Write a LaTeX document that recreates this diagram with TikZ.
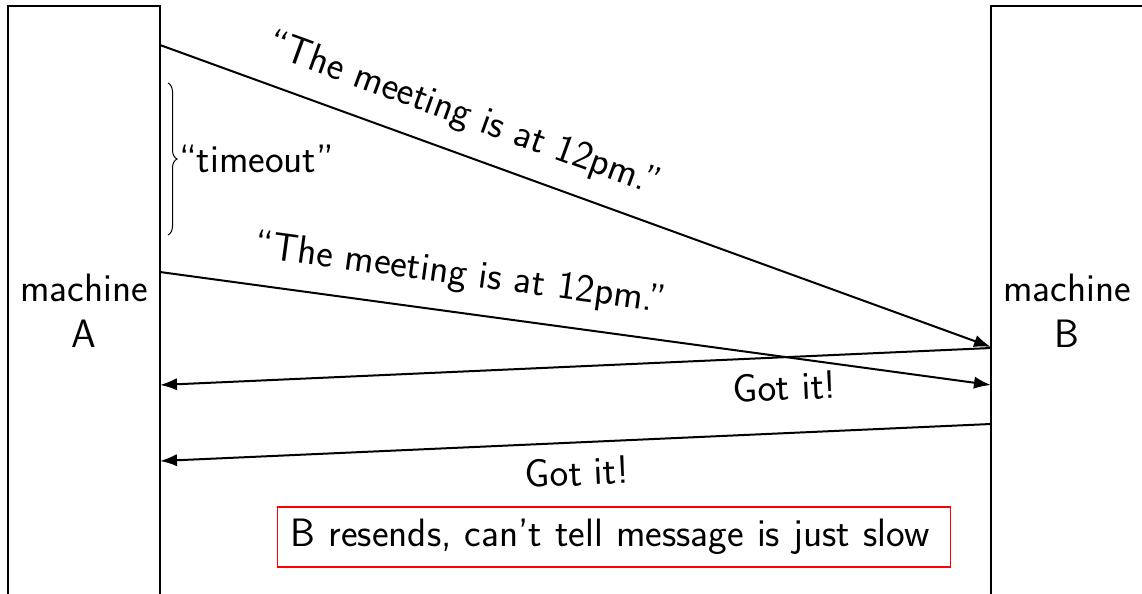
\documentclass[tikz,border=0pt]{standalone}
\usetikzlibrary{arrows.meta,decorations.pathreplacing}
\begin{document}
\begin{tikzpicture}[x=0.5pt,y=-0.5pt,
  every node/.style={font=\fontsize{19.8}{23.2}\sffamily\selectfont},
  machine/.style={draw,line width=1pt,minimum width=76pt,minimum height=317pt,inner sep=0pt},
  msg/.style={line width=1pt,-{Latex[length=8.5pt,width=6.2pt]}},
  notebox/.style={draw=red,line width=0.7pt,minimum height=30pt,inner xsep=6.5pt,
    text width=323.5pt,align=left,anchor=west}]
\useasboundingbox (0,0) rectangle (1142,594);
\clip (0,0) rectangle (1142,594);
% machines
\node[machine] (A) at (84,323) {};
\node[align=center] (Atext) at (84,311) {machine\\A};
\node[machine] (B) at (1067,323) {};
\node[align=center] (Btext) at (1067,311) {machine\\B};
% connector ends on the machine edges
\coordinate (a1) at (160,45);
\coordinate (b1) at (991,347);
\coordinate (a2) at (160,272);
\coordinate (b2) at (991,385);
\coordinate (b3) at (991,348);
\coordinate (a3) at (160,385);
\coordinate (b4) at (991,424);
\coordinate (a4) at (160,461);
% messages
\draw[msg] (a1) -- node[sloped,above=6pt,pos=0.35] (l1) {``The meeting is at 12pm.''} (b1);
\draw[msg] (a2) -- node[sloped,above=6pt,pos=0.355] (l2) {``The meeting is at 12pm.''} (b2);
\draw[msg] (b3) -- node[sloped,below=4pt,pos=0.25] (l3) {Got it!} (a3);
\draw[msg] (b4) -- node[sloped,below=4pt,pos=0.5] (l4) {Got it!} (a4);
% timeout brace
\coordinate (t1) at (168,83);
\coordinate (t2) at (168,235);
\draw[line width=0.5pt,decorate,decoration={brace,amplitude=4.5pt}] (t1) -- (t2)
  node[midway,anchor=west,xshift=2pt] (to) {``timeout''};
% note
\node[notebox] (note) at (277,537) {B resends, can't tell message is just slow};
\end{tikzpicture}
\end{document}
